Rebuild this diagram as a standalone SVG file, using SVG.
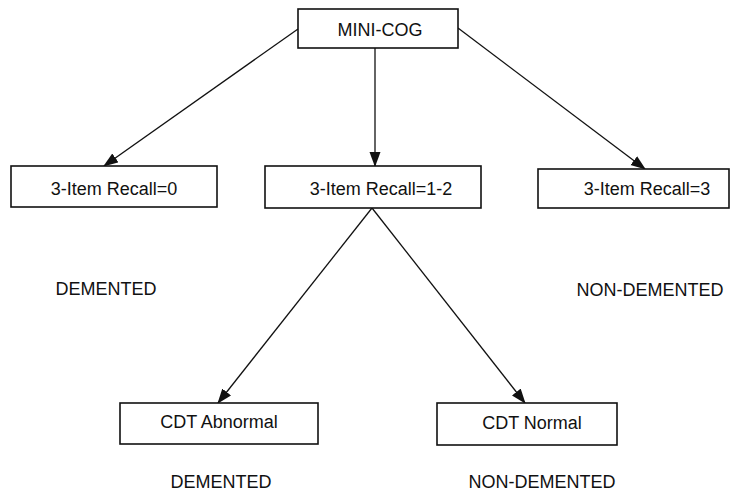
<svg xmlns="http://www.w3.org/2000/svg" width="744" height="493" viewBox="0 0 744 493">
<style>
.box{fill:#fff;stroke:#111;stroke-width:1.6}
.t{font-family:"Liberation Sans",Arial,sans-serif;font-size:18px;fill:#111;text-anchor:middle}
.c{stroke:#111;stroke-width:1.3;fill:none}
</style>
<defs>
<marker id="ah" markerWidth="15" markerHeight="12" refX="14" refY="5.5" orient="auto" markerUnits="userSpaceOnUse">
<path d="M0,0 L15,5.5 L0,11 Z" fill="#111"/>
</marker>
</defs>
<rect width="744" height="493" fill="#fff"/>
<g id="connectors">
<line class="c" x1="298" y1="29" x2="104" y2="166" marker-end="url(#ah)"/>
<line class="c" x1="375" y1="48" x2="375" y2="166" marker-end="url(#ah)"/>
<line class="c" x1="458" y1="28" x2="645" y2="169" marker-end="url(#ah)"/>
<line class="c" x1="372" y1="208" x2="218" y2="403" marker-end="url(#ah)"/>
<line class="c" x1="372" y1="208" x2="525" y2="403" marker-end="url(#ah)"/>
</g>
<g id="minicog">
<rect class="box" x="298" y="9" width="160" height="39"/>
<text class="t" x="380" y="36">MINI-COG</text>
</g>
<g id="recall0">
<rect class="box" x="11" y="166" width="206" height="41"/>
<text class="t" x="114" y="195">3-Item Recall=0</text>
</g>
<g id="recall12">
<rect class="box" x="265" y="166" width="216" height="42"/>
<text class="t" x="381" y="195">3-Item Recall=1-2</text>
</g>
<g id="recall3">
<rect class="box" x="538" y="169" width="191" height="39"/>
<text class="t" x="647" y="195">3-Item Recall=3</text>
</g>
<g id="cdtabnormal">
<rect class="box" x="120" y="403" width="198" height="41"/>
<text class="t" x="219" y="428">CDT Abnormal</text>
</g>
<g id="cdtnormal">
<rect class="box" x="437" y="403" width="180" height="42"/>
<text class="t" x="532" y="429">CDT Normal</text>
</g>
<g id="labels">
<text class="t" x="106" y="295">DEMENTED</text>
<text class="t" x="650" y="296">NON-DEMENTED</text>
<text class="t" x="221" y="488">DEMENTED</text>
<text class="t" x="542" y="488">NON-DEMENTED</text>
</g>
</svg>
